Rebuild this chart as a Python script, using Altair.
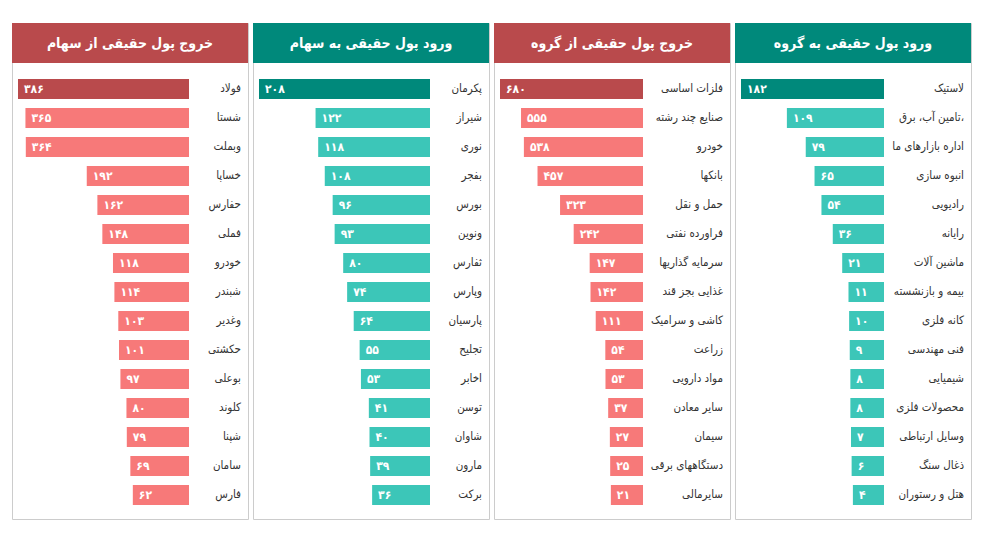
import altair as alt
import pandas as pd

FONT = "DejaVu Sans Condensed, DejaVu Sans"

# ---- data ----
titles = ["خروج پول حقیقی از سهام", "ورود پول حقیقی به سهام",
          "خروج پول حقیقی از گروه", "ورود پول حقیقی به گروه"]

cats1 = ["فولاد", "شستا", "وبملت", "خساپا", "حفارس", "فملی", "خودرو", "شبندر",
         "وغدیر", "حکشتی", "بوعلی", "کلوند", "شپنا", "سامان", "فارس"]
vals1 = [386, 365, 364, 192, 162, 148, 118, 114, 103, 101, 97, 80, 79, 69, 62]

cats2 = ["پکرمان", "شیراز", "نوری", "بفجر", "بورس", "ونوین", "ثفارس", "وپارس",
         "پارسیان", "تجلیح", "اخابر", "توسن", "شاوان", "مارون", "برکت"]
vals2 = [208, 122, 118, 108, 96, 93, 80, 74, 64, 55, 53, 41, 40, 39, 36]

cats3 = ["فلزات اساسی", "صنایع چند رشته", "خودرو", "بانکها", "حمل و نقل",
         "فراورده نفتی", "سرمایه گذاریها", "غذایی بجز قند", "کاشی و سرامیک",
         "زراعت", "مواد دارویی", "سایر معادن", "سیمان", "دستگاههای برقی", "سایرمالی"]
vals3 = [680, 555, 538, 457, 323, 242, 147, 142, 111, 54, 53, 37, 27, 25, 21]

cats4 = ["لاستیک", "تامین آب، برق، گاز", "اداره بازارهای مالی", "انبوه سازی",
         "رادیویی", "رایانه", "ماشین آلات", "بیمه و بازنشسته", "کانه فلزی",
         "فنی مهندسی", "شیمیایی", "محصولات فلزی", "وسایل ارتباطی", "ذغال سنگ",
         "هتل و رستوران"]
vals4 = [182, 109, 79, 65, 54, 36, 21, 11, 10, 9, 8, 8, 7, 6, 4]

RED_DARK, RED_LIGHT = "#b94a4c", "#f77979"
TEAL_DARK, TEAL_LIGHT = "#00897b", "#3cc6b8"

PERSIAN = str.maketrans("0123456789", "۰۱۲۳۴۵۶۷۸۹")

PW, PH = 236, 496


def panel(title, cats, vals, dark, light, bar_right, label_limit):
    df = pd.DataFrame({"cat": cats, "val": vals, "rank": list(range(len(cats)))})
    df["lab"] = [str(v).translate(PERSIAN) for v in vals]
    mx = max(vals)
    base = -0.25 * mx
    y = alt.Y("rank:O", axis=None,
              scale=alt.Scale(range=[51.5, 486.5], paddingInner=0.31, paddingOuter=0.155))
    xs = alt.Scale(domain=[base, mx], range=[bar_right, 6], nice=False, zero=False)
    color = alt.condition(alt.datum.rank == 0, alt.value(dark), alt.value(light))

    bars = alt.Chart(df).mark_bar().encode(
        y=y, x=alt.X("val:Q", scale=xs, axis=None), x2=alt.datum(base), color=color)
    vtext = alt.Chart(df).mark_text(
        align="left", baseline="middle", dx=6, color="white", fontWeight="bold",
        fontSize=12, font=FONT).encode(y=y, x=alt.X("val:Q", scale=xs, axis=None), text="lab:N")
    ctext = alt.Chart(df).mark_text(
        align="right", baseline="middle", fontSize=11.5, font=FONT, color="#333333",
        limit=label_limit, ellipsis=" ").encode(y=y, x=alt.value(229), text="cat:N")

    hdf = pd.DataFrame({"title": [title]})
    hrect = alt.Chart(hdf).mark_rect(color=dark).encode(
        x=alt.value(0), x2=alt.value(PW), y=alt.value(0), y2=alt.value(40))
    htext = alt.Chart(hdf).mark_text(
        color="white", fontSize=14, fontWeight="bold", font=FONT,
        align="center", baseline="middle").encode(
        x=alt.value(PW / 2), y=alt.value(21), text="title:N")

    return alt.layer(hrect, htext, bars, vtext, ctext).properties(width=PW, height=PH)


p1 = panel(titles[0], cats1, vals1, RED_DARK, RED_LIGHT, 177, 300)
p2 = panel(titles[1], cats2, vals2, TEAL_DARK, TEAL_LIGHT, 177, 300)
p3 = panel(titles[2], cats3, vals3, RED_DARK, RED_LIGHT, 149, 76)
p4 = panel(titles[3], cats4, vals4, TEAL_DARK, TEAL_LIGHT, 149, 76)

chart = alt.hconcat(p1, p2, p3, p4, spacing=3).properties(
    padding={"left": 3, "top": 14, "right": 4, "bottom": 4},
    background="white",
).configure_view(stroke="#cccccc", strokeWidth=1)

chart.save("out.html", embed_options={"renderer": "svg", "actions": False})
